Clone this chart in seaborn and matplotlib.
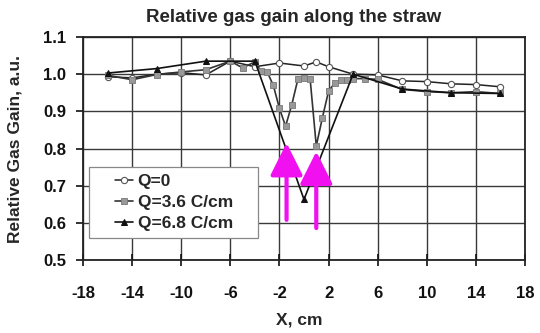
import matplotlib
matplotlib.use("Agg")
import matplotlib.pyplot as plt
from matplotlib.patches import Rectangle
import seaborn as sns
import pandas as pd

# ---- data ----
x_q0 = [-16, -14, -12, -10, -8, -6, -4, -2, 0, 1, 2, 4, 6, 8, 10, 12, 14, 16]
y_q0 = [0.993, 0.990, 1.000, 1.004, 0.998, 1.035, 1.020, 1.030, 1.022, 1.033,
        1.020, 1.000, 0.998, 0.982, 0.980, 0.974, 0.972, 0.966]

x_q36 = [-16, -14, -12, -10, -8, -6, -5, -4, -3.5, -3, -2.5, -2, -1.5, -1, -0.5,
         0, 0.5, 1, 1.5, 2, 2.5, 3, 3.5, 4, 5, 6, 8, 10, 12, 14, 16]
y_q36 = [0.997, 0.985, 0.999, 1.006, 1.012, 1.035, 1.017, 1.033, 1.008, 1.006,
         0.970, 0.908, 0.860, 0.917, 0.986, 0.990, 0.987, 0.807, 0.883, 0.954,
         0.976, 0.983, 0.985, 0.988, 0.988, 0.986, 0.959, 0.953, 0.950, 0.953, 0.948]

x_q68 = [-16, -12, -8, -4, 0, 4, 8, 12, 16]
y_q68 = [1.003, 1.015, 1.035, 1.035, 0.663, 1.000, 0.960, 0.950, 0.948]

labels = ["Q=0", "Q=3.6 C/cm", "Q=6.8 C/cm"]
x_ticks = [-18, -14, -10, -6, -2, 2, 6, 10, 14, 18]
y_ticks = [0.5, 0.6, 0.7, 0.8, 0.9, 1.0, 1.1]
arrow_x = [-1.42, 1.0]
arrow_tip = [0.815, 0.792]
arrow_base = [0.608, 0.586]

title = "Relative gas gain along the straw"
xlabel = "X, cm"
ylabel = "Relative Gas Gain, a.u."

# ---- style ----
sns.set_style("white")
plt.rcParams["font.family"] = ["Liberation Sans", "DejaVu Sans"]
plt.rcParams["font.weight"] = "bold"

fig = plt.figure(figsize=(5.4, 3.33), dpi=100)
ax = fig.add_axes([0.1537, 0.2192, 0.8185, 0.6697])

df0 = pd.DataFrame({"x": x_q0, "y": y_q0})
df1 = pd.DataFrame({"x": x_q36, "y": y_q36})
df2 = pd.DataFrame({"x": x_q68, "y": y_q68})

sns.lineplot(data=df0, x="x", y="y", ax=ax, color="#222222", lw=1.1,
             marker="o", markersize=4.5, markerfacecolor="white",
             markeredgecolor="#555555", markeredgewidth=0.8, label=labels[0],
             sort=False)
sns.lineplot(data=df1, x="x", y="y", ax=ax, color="#333333", lw=1.2,
             marker="s", markersize=4.5, markerfacecolor="#999999",
             markeredgecolor="#777777", markeredgewidth=0.6, label=labels[1],
             sort=False)
sns.lineplot(data=df2, x="x", y="y", ax=ax, color="#111111", lw=1.2,
             marker="^", markersize=4.5, markerfacecolor="#111111",
             markeredgecolor="#111111", label=labels[2], sort=False)

for xa, yt, yb in zip(arrow_x, arrow_tip, arrow_base):
    ax.annotate("", xy=(xa, yt), xytext=(xa, yb),
                arrowprops=dict(arrowstyle="-|>,head_length=1.0,head_width=0.5",
                                color="#f010f0", lw=3, mutation_scale=20,
                                shrinkA=0, shrinkB=0))

ax.set_xlim(-18, 18)
ax.set_ylim(0.5, 1.1)
ax.set_xticks(x_ticks)
ax.set_yticks(y_ticks)
ax.set_xticklabels([str(t) for t in x_ticks])
ax.set_yticklabels([f"{t:.1f}" for t in y_ticks])
ax.grid(True, color="#3a3a3a", lw=1.0)
ax.set_axisbelow(True)
for s in ax.spines.values():
    s.set_visible(True)
    s.set_color("#222222")
    s.set_linewidth(1.3)
ax.tick_params(axis="x", direction="inout", length=8, width=1.2, labelsize=12,
               pad=15, bottom=True, colors="#111111")
ax.tick_params(axis="y", direction="out", length=5, width=1.2, labelsize=12,
               pad=7, left=True, colors="#111111")
for lab in ax.get_xticklabels() + ax.get_yticklabels():
    lab.set_fontweight("bold")

ax.set_title(title, fontsize=13.5, fontweight="bold", pad=11, x=0.477)
ax.set_xlabel(xlabel, fontsize=12.5, fontweight="bold")
ax.set_ylabel(ylabel, fontsize=12.5, fontweight="bold")
ax.xaxis.set_label_coords(0.49, -0.235)
ax.yaxis.set_label_coords(-0.136, 0.5)

# legend box (frame drawn separately to match the wide side padding)
ax.add_patch(Rectangle((0.0143, 0.100), 0.382, 0.316, transform=ax.transAxes,
                       facecolor="white", edgecolor="#888888", lw=0.9, zorder=4))
leg = ax.legend(loc="center left", bbox_to_anchor=(0.0724, 0.258),
                frameon=False, fontsize=12.5, handlelength=1.05,
                handletextpad=0.25, labelspacing=0.36, borderpad=0,
                borderaxespad=0)
leg.set_zorder(5)
for t in leg.get_texts():
    t.set_fontweight("bold")

fig.savefig("out.png", dpi=100)
